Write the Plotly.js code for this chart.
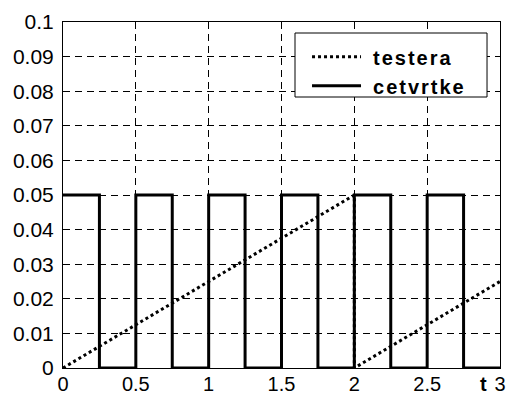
<!DOCTYPE html>
<html><head><meta charset="utf-8">
<script src="https://cdn.plot.ly/plotly-3.0.1.min.js"></script>
<style>body{margin:0;background:#fff}#g{width:509px;height:396px}
.legendtext{letter-spacing:2px;transform:translateX(7px)}
.legend .scrollbox{clip-path:none !important}</style>
</head><body><div id="g"></div>
<script>
const sawX = [0, 2, 2, 3];
const sawY = [0, 0.05, 0, 0.025];
const sqX = [0, 0.25, 0.25, 0.5, 0.5, 0.75, 0.75, 1, 1, 1.25, 1.25, 1.5, 1.5, 1.75, 1.75, 2, 2, 2.25, 2.25, 2.5, 2.5, 2.75, 2.75, 3];
const sqY = [0.05, 0.05, 0, 0, 0.05, 0.05, 0, 0, 0.05, 0.05, 0, 0, 0.05, 0.05, 0, 0, 0.05, 0.05, 0, 0, 0.05, 0.05, 0, 0];
const xTicks = [0, 0.5, 1, 1.5, 2, 2.5, 3];
const xTickText = ['0', '0.5', '1', '1.5', '2', '2.5', '3'];
const yTicks = [0, 0.01, 0.02, 0.03, 0.04, 0.05, 0.06, 0.07, 0.08, 0.09, 0.1];
const yTickText = ['0', '0.01', '0.02', '0.03', '0.04', '0.05', '0.06', '0.07', '0.08', '0.09', '0.1'];
const names = ['testera', 'cetvrtke'];

const FAM = 'Arial, Liberation Sans, sans-serif';
const font = {family: FAM, size: 21, color: '#000'};
const traces = [
  {x: sawX, y: sawY, name: names[0], mode: 'lines', line: {color: '#000', width: 3, dash: 'dot'}},
  {x: sqX, y: sqY, name: names[1], mode: 'lines', line: {color: '#000', width: 3}}
];
const axisCommon = {
  showline: true, mirror: 'ticks', linecolor: '#000', linewidth: 1,
  ticks: 'inside', ticklen: 5, tickcolor: '#000',
  showgrid: true, gridcolor: '#000', griddash: '7px,5px', gridwidth: 1,
  zeroline: false, tickfont: font
};
const layout = {
  width: 509, height: 396,
  margin: {l: 63, r: 9, t: 22, b: 28},
  paper_bgcolor: '#fff', plot_bgcolor: '#fff',
  font: font,
  showlegend: true,
  xaxis: Object.assign({}, axisCommon, {range: [0, 3], tickvals: xTicks, ticktext: xTickText, ticklabelstandoff: -2, tickfont: {family: FAM, size: 20, color: '#000'}}),
  yaxis: Object.assign({}, axisCommon, {range: [0, 0.1], tickvals: yTicks, ticktext: yTickText, ticklabelstandoff: 4}),
  legend: {
    x: 0.5584, xanchor: 'left', y: 0.956, yanchor: 'top',
    borderwidth: 0, bgcolor: 'rgba(0,0,0,0)',
    font: {family: FAM, size: 20, color: '#000', weight: 'bold'},
    itemwidth: 49, tracegroupgap: 0
  },
  shapes: [{
    type: 'rect', xref: 'paper', yref: 'paper', x0: 0.5309, x1: 0.9703, y0: 0.7832, y1: 0.9682,
    line: {color: '#000', width: 1}, fillcolor: '#fff', layer: 'above'
  }],
  annotations: [{
    text: '<b>t</b>', xref: 'paper', yref: 'paper', x: 0.963, y: 0, yshift: -3,
    xanchor: 'center', yanchor: 'top', showarrow: false,
    font: {family: FAM, size: 20, color: '#000'}
  }]
};
Plotly.newPlot('g', traces, layout, {displayModeBar: false, staticPlot: true});
</script></body></html>
